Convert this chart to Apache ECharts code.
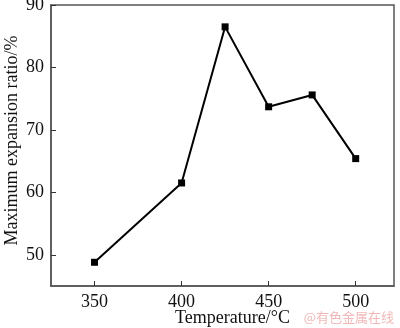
<!DOCTYPE html>
<html><head><meta charset="utf-8">
<script src="https://cdn.jsdelivr.net/npm/echarts@6/dist/echarts.min.js"></script>
<style>html,body{margin:0;padding:0;background:#fff}#c{width:400px;height:328px}</style>
</head><body><div id="c"></div>
<script>
const temperatures = [350, 400, 425, 450, 475, 500];
const expansionRatio = [48.8, 61.5, 86.5, 73.7, 75.6, 65.4];
const xTicks = [350, 400, 450, 500];
const yTicks = [50, 60, 70, 80, 90];

const chart = echarts.init(document.getElementById('c'), null, {renderer: 'canvas'});
const serif = 'Liberation Serif';
const axisCol = '#555';
chart.setOption({
  animation: false,
  backgroundColor: '#fff',
  grid: {left: 51, top: 5, right: 6, bottom: 42, containLabel: false, outerBoundsMode: 'none',
         show: true, borderColor: axisCol, borderWidth: 1.5, backgroundColor: 'transparent'},
  xAxis: {
    type: 'value', min: 325, max: 522,
    axisLine: {show: true, lineStyle: {color: axisCol, width: 1.5}},
    axisTick: {show: true, inside: true, length: 5, customValues: xTicks, lineStyle: {color: '#333'}},
    axisLabel: {customValues: xTicks, color: '#111', fontFamily: serif, fontSize: 18, margin: 7},
    splitLine: {show: false},
    name: 'Temperature/°C', nameLocation: 'middle', nameGap: 23, nameMoveOverlap: false,
    nameTextStyle: {color: '#111', fontFamily: serif, fontSize: 18, padding: [0, 0, 0, 20]}
  },
  yAxis: {
    type: 'value', min: 45, max: 90,
    axisLine: {show: true, lineStyle: {color: axisCol, width: 1.5}},
    axisTick: {show: true, inside: true, length: 5, customValues: yTicks, lineStyle: {color: '#333'}},
    axisLabel: {customValues: yTicks, color: '#111', fontFamily: serif, fontSize: 18, margin: 7},
    splitLine: {show: false},
    name: 'Maximum expansion ratio/%', nameLocation: 'middle', nameGap: 30, nameMoveOverlap: false,
    nameTextStyle: {color: '#111', fontFamily: serif, fontSize: 18, padding: [0, 0, 0, 10]}
  },
  series: [{
    type: 'line',
    data: temperatures.map((t, i) => [t, expansionRatio[i]]),
    symbol: 'rect', symbolSize: 7,
    lineStyle: {color: '#000', width: 2},
    itemStyle: {color: '#000'}
  }],
  graphic: [{
    type: 'text', right: 6, bottom: 4,
    style: {text: '@有色金属在线', fill: '#f2b8b8', font: '13px "Noto Sans CJK SC"'}
  }]
});
</script></body></html>
